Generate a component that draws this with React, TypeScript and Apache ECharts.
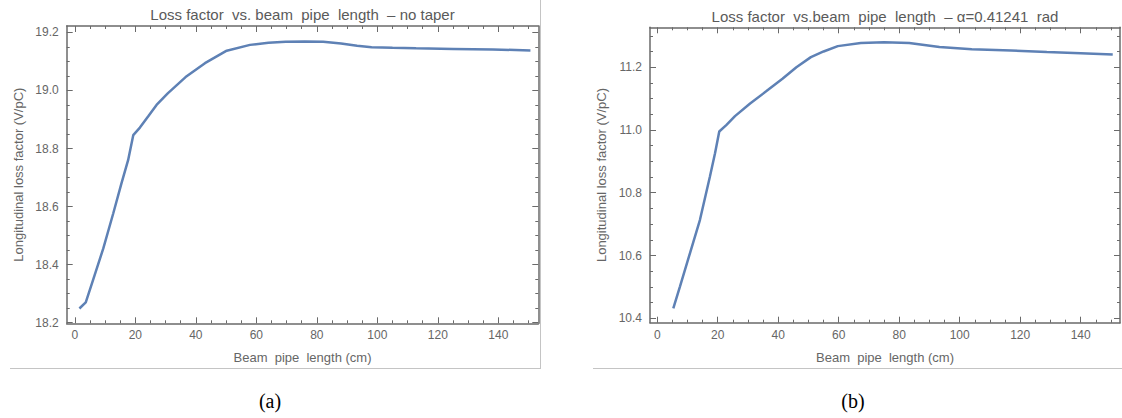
import React, { useEffect, useRef } from "react";
import * as echarts from "echarts";

// ---- data ----
const xA = [1.5, 3.6, 6.0, 9.4, 12.7, 15.4, 17.6, 19.3, 21.5, 24.2, 27.0, 30.7, 36.6, 43.0, 50.2, 57.9, 64.0, 69.7, 76.0, 82.1, 88.0, 93.3, 98.1, 105.0, 112.8, 125.0, 138.2, 150.6];
const yA = [18.249, 18.27, 18.347, 18.456, 18.577, 18.68, 18.76, 18.846, 18.872, 18.91, 18.95, 18.99, 19.046, 19.094, 19.137, 19.157, 19.164, 19.168, 19.169, 19.168, 19.162, 19.154, 19.149, 19.147, 19.145, 19.143, 19.141, 19.138];

const xB = [5.3, 7.5, 10.8, 14.1, 17.4, 19.1, 20.5, 22.9, 25.7, 30.7, 36.0, 41.4, 46.0, 50.8, 55.0, 59.7, 67.3, 75.0, 83.3, 93.3, 104.0, 117.0, 128.8, 140.0, 150.6];
const yB = [10.432, 10.501, 10.607, 10.713, 10.851, 10.926, 10.995, 11.016, 11.044, 11.084, 11.123, 11.163, 11.2, 11.232, 11.25, 11.267, 11.277, 11.279, 11.277, 11.264, 11.257, 11.253, 11.248, 11.244, 11.24];

const xTickLabels = [0, 20, 40, 60, 80, 100, 120, 140];
const yTickLabelsA = [18.2, 18.4, 18.6, 18.8, 19.0, 19.2];
const yTickLabelsB = [10.4, 10.6, 10.8, 11.0, 11.2];

const titleA = "Loss factor  vs. beam  pipe  length  \u2013 no taper";
const titleB = "Loss factor  vs.beam  pipe  length  \u2013 \u03b1=0.41241  rad";
const xName = "Beam  pipe  length (cm)";
const yName = "Longitudinal loss factor (V/pC)";
const captions = ["(a)", "(b)"];

// ---- styling ----
const LINE_COLOR = "#5E81B5";
const FRAME = "#6a6a6a";
const LABEL = "#666666";
const FONT = "'Liberation Sans', Arial, sans-serif";

function minorValues(min: number, max: number, step: number, majorStep: number) {
  const out: number[] = [];
  const start = Math.ceil(min / step);
  const end = Math.floor(max / step);
  const ratio = Math.round(majorStep / step);
  for (let k = start; k <= end; k++) {
    if (k % ratio === 0) continue;
    out.push(Math.round(k * step * 10000) / 10000);
  }
  return out;
}

export default function App() {
  const ref = useRef<HTMLDivElement>(null);

  useEffect(() => {
    if (!ref.current) return;
    const chart = echarts.init(ref.current, null, { renderer: "svg" });

    const panels = [
      {
        grid: { left: 66.7, top: 26, width: 471.6, height: 297.3 },
        xMin: -2.7, xMax: 153.2, yMin: 18.198, yMax: 19.222,
        yTicks: yTickLabelsA, yMinor: 0.05, yMajor: 0.2,
        xs: xA, ys: yA, title: titleA, caption: captions[0],
      },
      {
        grid: { left: 650, top: 27.3, width: 470, height: 295.4 },
        xMin: -2.4, xMax: 153, yMin: 10.386, yMax: 11.327,
        yTicks: yTickLabelsB, yMinor: 0.05, yMajor: 0.2,
        xs: xB, ys: yB, title: titleB, caption: captions[1],
      },
    ];

    const grids: any[] = [];
    const xAxes: any[] = [];
    const yAxes: any[] = [];
    const series: any[] = [];
    const graphics: any[] = [];

    panels.forEach((p, i) => {
      grids.push({ ...p.grid, containLabel: false });
      const xMinor = minorValues(p.xMin, p.xMax, 5, 20);
      const yMinor = minorValues(p.yMin, p.yMax, p.yMinor, p.yMajor);
      const baseX = { type: "value", gridIndex: i, min: p.xMin, max: p.xMax, splitLine: { show: false } };
      const baseY = { type: "value", gridIndex: i, min: p.yMin, max: p.yMax, splitLine: { show: false } };
      const mainXIndex = xAxes.length;
      xAxes.push({
        ...baseX,
        position: "bottom",
        axisLine: { show: true, onZero: false, lineStyle: { color: FRAME, width: 1.5 } },
        axisTick: { show: true, inside: true, length: 6, customValues: xTickLabels, lineStyle: { color: FRAME, width: 1 } },
        axisLabel: { show: true, customValues: xTickLabels, color: LABEL, fontSize: 12, fontFamily: FONT, margin: 6, formatter: (v: number) => String(v) },
        name: xName,
        nameLocation: "middle",
        nameGap: 28,
        nameTextStyle: { color: LABEL, fontSize: 13, fontFamily: FONT },
      });
      xAxes.push({
        ...baseX,
        position: "top",
        axisLine: { show: true, onZero: false, lineStyle: { color: FRAME, width: 1.5 } },
        axisTick: { show: true, inside: true, length: 6, customValues: xTickLabels, lineStyle: { color: FRAME, width: 1 } },
        axisLabel: { show: false },
      });
      ["bottom", "top"].forEach((pos) => {
        xAxes.push({
          ...baseX,
          position: pos,
          axisLine: { show: false, onZero: false },
          axisTick: { show: true, inside: true, length: 3, customValues: xMinor, lineStyle: { color: FRAME, width: 1 } },
          axisLabel: { show: false },
        });
      });

      const mainYIndex = yAxes.length;
      yAxes.push({
        ...baseY,
        position: "left",
        axisLine: { show: true, onZero: false, lineStyle: { color: FRAME, width: 1.5 } },
        axisTick: { show: true, inside: true, length: 6, customValues: p.yTicks, lineStyle: { color: FRAME, width: 1 } },
        axisLabel: { show: true, customValues: p.yTicks, color: LABEL, fontSize: 12, fontFamily: FONT, margin: 8, formatter: (v: number) => v.toFixed(1) },
        name: yName,
        nameLocation: "middle",
        nameGap: 42,
        nameRotate: 90,
        nameTextStyle: { color: LABEL, fontSize: 13, fontFamily: FONT },
      });
      yAxes.push({
        ...baseY,
        position: "right",
        axisLine: { show: true, onZero: false, lineStyle: { color: FRAME, width: 1.5 } },
        axisTick: { show: true, inside: true, length: 6, customValues: p.yTicks, lineStyle: { color: FRAME, width: 1 } },
        axisLabel: { show: false },
      });
      ["left", "right"].forEach((pos) => {
        yAxes.push({
          ...baseY,
          position: pos,
          axisLine: { show: false, onZero: false },
          axisTick: { show: true, inside: true, length: 3, customValues: yMinor, lineStyle: { color: FRAME, width: 1 } },
          axisLabel: { show: false },
        });
      });

      series.push({
        type: "line",
        xAxisIndex: mainXIndex,
        yAxisIndex: mainYIndex,
        data: p.xs.map((x, k) => [x, p.ys[k]]),
        showSymbol: false,
        symbol: "none",
        lineStyle: { color: LINE_COLOR, width: 2.5 },
        z: 3,
      });

      const cx = p.grid.left + p.grid.width / 2;
      graphics.push({
        type: "text",
        x: cx,
        y: i === 0 ? 14 : 16,
        style: { text: p.title, align: "center", verticalAlign: "middle", fill: "#5a5a5a", font: `15px ${FONT}` },
      });
      graphics.push({
        type: "text",
        x: i === 0 ? 270 : 853,
        y: 401,
        style: { text: p.caption, align: "center", verticalAlign: "middle", fill: "#000", font: "20px 'Liberation Serif', 'Times New Roman', serif" },
      });
    });

    graphics.push({ type: "line", shape: { x1: 10, y1: 368.5, x2: 541, y2: 368.5 }, style: { stroke: "#c4c4c4", lineWidth: 1 } });
    graphics.push({ type: "line", shape: { x1: 540.5, y1: 0, x2: 540.5, y2: 368.5 }, style: { stroke: "#c4c4c4", lineWidth: 1 } });
    graphics.push({ type: "line", shape: { x1: 593, y1: 368.5, x2: 1122, y2: 368.5 }, style: { stroke: "#c4c4c4", lineWidth: 1 } });

    chart.setOption({
      animation: false,
      backgroundColor: "#ffffff",
      grid: grids,
      xAxis: xAxes,
      yAxis: yAxes,
      series,
      graphic: graphics,
    });

    return () => chart.dispose();
  }, []);

  return (
    <div
      ref={ref}
      style={{ position: "absolute", left: 0, top: 0, width: 1122, height: 418, background: "#fff" }}
    />
  );
}
